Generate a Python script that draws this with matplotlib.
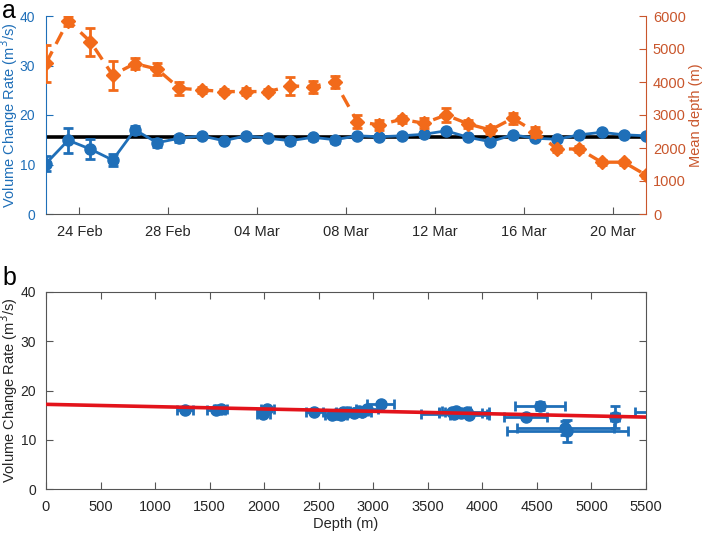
import matplotlib
matplotlib.use("Agg")
import matplotlib.pyplot as plt
import matplotlib.dates as mdates
import numpy as np
import pandas as pd

plt.rcParams['font.family'] = ['Liberation Sans', 'DejaVu Sans']

# ---- data: panel a (time series) ----
dates = ["2018-02-22 12:00", "2018-02-23 12:00", "2018-02-24 12:00", "2018-02-25 12:00",
         "2018-02-26 12:00", "2018-02-27 12:00", "2018-02-28 12:00", "2018-03-01 12:00",
         "2018-03-02 12:00", "2018-03-03 12:00", "2018-03-04 12:00", "2018-03-05 12:00",
         "2018-03-06 12:00", "2018-03-07 12:00", "2018-03-08 12:00", "2018-03-09 12:00",
         "2018-03-10 12:00", "2018-03-11 12:00", "2018-03-12 12:00", "2018-03-13 12:00",
         "2018-03-14 12:00", "2018-03-15 12:00", "2018-03-16 12:00", "2018-03-17 12:00",
         "2018-03-18 12:00", "2018-03-19 12:00", "2018-03-20 12:00", "2018-03-21 12:00"]
rate = [10.2, 14.9, 13.1, 10.9, 17.0, 14.4, 15.3, 15.8, 14.8, 15.8, 15.3, 14.8, 15.5, 15.0,
        15.8, 15.6, 15.8, 16.1, 16.8, 15.5, 14.6, 16.0, 15.3, 15.1, 16.0, 16.5, 16.0, 15.8]
rate_err = [1.5, 2.5, 2.0, 1.3, 0.8, 0.8, 0.7, 0.3, 0.3, 0.3, 0.3, 0.6, 0.5, 0.6,
            0.4, 0.3, 0.3, 0.3, 0.3, 0.3, 0.3, 0.3, 0.3, 0.3, 0.3, 0.3, 0.3, 0.3]
depth = [4570, 5860, 5220, 4210, 4560, 4390, 3810, 3760, 3710, 3710, 3710, 3880, 3860, 4010,
         2800, 2700, 2870, 2750, 3000, 2730, 2545, 2900, 2495, 1970, 1970, 1570, 1570, 1180]
depth_err = [560, 150, 430, 440, 170, 180, 200, 80, 80, 100, 80, 270, 180, 180,
             200, 150, 100, 150, 200, 120, 120, 170, 150, 80, 80, 80, 80, 100]
mean_rate = 15.5

# ---- data: panel b (rate vs depth) ----
b_depth = [1274, 1560, 1600, 1990, 2030, 2460, 2620, 2660, 2700, 2720, 2760, 2820, 2870, 2900,
           2940, 3068, 3720, 3740, 3760, 3800, 3860, 3880, 4397, 4528, 4760, 4780, 5215, 5700]
b_depth_err = [75, 80, 60, 60, 60, 80, 60, 60, 60, 60, 60, 80, 80, 80,
               100, 125, 120, 300, 130, 200, 200, 180, 200, 225, 445, 555, 40, 300]
b_rate = [16.0, 16.1, 16.2, 15.2, 16.2, 15.7, 15.0, 15.3, 15.0, 15.7, 15.6, 15.5, 15.9, 15.6,
          16.2, 17.2, 15.6, 15.2, 15.8, 15.4, 15.6, 15.1, 14.7, 16.9, 12.4, 11.8, 14.7, 15.6]
b_rate_err = [0.4, 0.4, 0.4, 0.4, 0.4, 0.3, 0.3, 0.3, 0.3, 0.3, 0.3, 0.3, 0.3, 0.3,
              0.3, 0.4, 0.4, 0.6, 0.4, 0.4, 0.4, 0.4, 0.5, 0.8, 1.5, 2.3, 2.2, 0.4]
fit_intercept = 17.2
fit_slope = -0.00047

tick_dates = ["2018-02-24", "2018-02-28", "2018-03-04", "2018-03-08",
              "2018-03-12", "2018-03-16", "2018-03-20"]

BLUE = '#1f6fb8'
ORANGE = '#f26a1a'
ORANGE_AX = '#c9562c'
DARK = '#262626'
GRAY = '#555555'

fig = plt.figure(figsize=(7.06, 5.33), dpi=100)

# ---------------- panel a ----------------
ax1 = fig.add_axes([46/706, 1-214/533, 600/706, 198/533])
ax2 = ax1.twinx()
t = pd.to_datetime(dates)

ax1.axhline(mean_rate, color='black', lw=2.6, zorder=2)
ax1.errorbar(t, rate, yerr=rate_err, color=BLUE, lw=2.0, marker='o', ms=8,
             mfc=BLUE, mec=BLUE, capsize=3.5, elinewidth=2.0, capthick=2.0, zorder=3)
ax2.errorbar(t, depth, yerr=depth_err, color=ORANGE, lw=2.4, ls=(0, (4, 2.5)), marker='D',
             ms=7.5, mfc=ORANGE, mec=ORANGE, capsize=3.5, elinewidth=2.0, capthick=2.0)

ax1.set_xlim(pd.Timestamp("2018-02-22 12:00"), pd.Timestamp("2018-03-21 12:00"))
ax1.set_ylim(0, 40)
ax1.set_yticks([0, 10, 20, 30, 40])
ax2.set_ylim(0, 6000)
ax2.set_yticks(np.arange(0, 6001, 1000))
ax1.set_xticks(pd.to_datetime(tick_dates))
ax1.xaxis.set_major_formatter(mdates.DateFormatter('%d %b'))

for s in ['top']:
    ax1.spines[s].set_visible(False)
    ax2.spines[s].set_visible(False)
ax1.spines['left'].set_color(BLUE)
ax1.spines['bottom'].set_color(GRAY)
ax1.spines['right'].set_visible(False)
ax2.spines['left'].set_visible(False)
ax2.spines['bottom'].set_visible(False)
ax2.spines['right'].set_color(ORANGE_AX)

ax1.tick_params(axis='x', direction='in', length=5, colors=GRAY, labelcolor=DARK,
                labelsize=10.5, pad=8)
ax1.tick_params(axis='y', direction='in', length=5, colors=BLUE, labelcolor=BLUE,
                labelsize=10, pad=8)
ax2.tick_params(axis='y', direction='in', length=5, colors=ORANGE_AX, labelcolor=ORANGE_AX,
                labelsize=10.5, pad=5)
ax1.set_ylabel('Volume Change Rate (m$^3$/s)', color=BLUE, fontsize=10.5, va='center')
ax1.yaxis.set_label_coords(-0.061, 0.5)
ax2.set_ylabel('Mean depth (m)', color=ORANGE_AX, fontsize=10.5, va='center')
ax2.yaxis.set_label_coords(1.084, 0.5)

fig.text(2/706, 1-11/533, 'a', fontsize=18, va='center', ha='left', color='black')

# ---------------- panel b ----------------
ax3 = fig.add_axes([46/706, 1-489.3/533, 600/706, 197.6/533])
ax3.errorbar(b_depth, b_rate, xerr=b_depth_err, yerr=b_rate_err, fmt='o', color=BLUE,
             ms=8, mfc=BLUE, mec=BLUE, capsize=3.5, elinewidth=2.0, capthick=2.0, zorder=3)
xfit = np.array([0, 5500])
ax3.plot(xfit, fit_intercept + fit_slope * xfit, color='#e3131b', lw=2.6, zorder=4)
ax3.set_xlim(0, 5500)
ax3.set_ylim(0, 40)
ax3.set_xticks(np.arange(0, 5501, 500))
ax3.set_yticks([0, 10, 20, 30, 40])
for s in ax3.spines.values():
    s.set_color(GRAY)
ax3.tick_params(direction='in', length=5, colors=GRAY, labelcolor=DARK, labelsize=10.5,
                top=True, right=True)
ax3.tick_params(axis='x', pad=8)
ax3.tick_params(axis='y', pad=7, labelsize=10)
ax3.set_xlabel('Depth (m)', color=DARK, fontsize=10.5, labelpad=2)
ax3.set_ylabel('Volume Change Rate (m$^3$/s)', color=DARK, fontsize=10.5, va='center')
ax3.yaxis.set_label_coords(-0.061, 0.5)

fig.text(2/706, 1-278/533, 'b', fontsize=18, va='center', ha='left', color='black')

fig.savefig('out.png', dpi=100)
